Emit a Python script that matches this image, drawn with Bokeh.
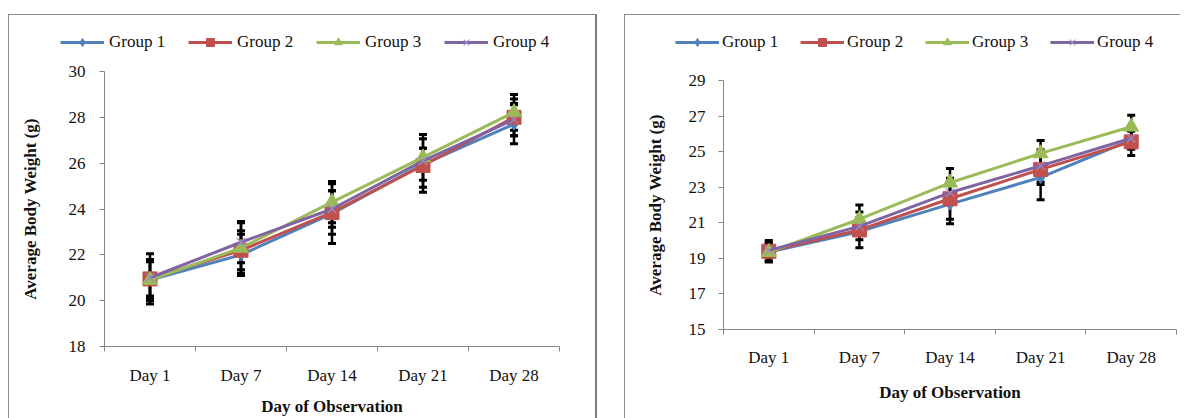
from bokeh.plotting import figure
from bokeh.models import Range1d, FixedTicker, Whisker, TeeHead, ColumnDataSource, Legend, LegendItem
from bokeh.layouts import row, column
from bokeh.embed import file_html
from bokeh.resources import INLINE

days = ["Day 1", "Day 7", "Day 14", "Day 21", "Day 28"]
groups = ["Group 1", "Group 2", "Group 3", "Group 4"]

# Left chart
left_g1 = [20.9, 22.0, 23.8, 25.95, 27.7]
left_g1_err = [0.9, 0.9, 1.3, 0.7, 0.85]
left_g2 = [20.95, 22.2, 23.85, 25.9, 28.0]
left_g2_err = [1.1, 0.85, 0.95, 1.17, 0.8]
left_g3 = [20.9, 22.3, 24.3, 26.25, 28.22]
left_g3_err = [0.8, 1.1, 0.9, 0.4, 0.78]
left_g4 = [21.0, 22.55, 24.0, 26.1, 27.9]
left_g4_err = [0.8, 0.9, 0.8, 1.15, 0.7]
left_yticks = [18, 20, 22, 24, 26, 28, 30]

# Right chart
right_g1 = [19.35, 20.5, 22.05, 23.55, 25.65]
right_g1_err = [0.5, 0.45, 1.1, 1.25, 0.5]
right_g2 = [19.4, 20.6, 22.35, 24.0, 25.55]
right_g2_err = [0.6, 1.0, 1.15, 0.85, 0.77]
right_g3 = [19.35, 21.2, 23.25, 24.9, 26.4]
right_g3_err = [0.5, 0.8, 0.8, 0.73, 0.65]
right_g4 = [19.45, 20.8, 22.7, 24.2, 25.75]
right_g4_err = [0.4, 0.5, 0.6, 0.9, 0.6]
right_yticks = [15, 17, 19, 21, 23, 25, 27, 29]

colors = ["#4F81BD", "#C0504D", "#9BBB59", "#8064A2"]
markers = ["diamond", "square", "triangle", "x"]
msizes = [12, 14, 15, 12]
FONT = "Liberation Serif"
AXC = "#868686"
XCOL = "#A08CC0"


def add_series(p, xs, m, c, mk, ms):
    lr = p.line(xs, m, line_color=c, line_width=3)
    if mk == "x":
        sr = p.scatter(xs, m, marker=mk, size=ms, line_color=XCOL, line_width=1.2)
    else:
        sr = p.scatter(xs, m, marker=mk, size=ms, fill_color=c, line_color=c)
    return lr, sr


def make_legend_fig(means, width, height, loc, lab_w, standoff):
    # Legend strip above the plot; its series lie outside its visible range,
    # so only the legend entries show.
    xs = [i + 0.5 for i in range(len(days))]
    lf = figure(width=width, height=height, x_range=Range1d(0, 1), y_range=Range1d(0, 1),
                x_axis_type=None, y_axis_type=None, output_backend="svg",
                toolbar_location=None, min_border=0, outline_line_color=None,
                frame_align=False)
    items = []
    for g, m, c, mk, ms in zip(groups, means, colors, markers, msizes):
        lr, sr = add_series(lf, xs, m, c, mk, ms)
        items.append(LegendItem(label=g, renderers=[lr, sr]))
    leg = Legend(items=items, orientation="horizontal", location=loc,
                 glyph_width=44, glyph_height=20, label_standoff=standoff,
                 label_width=lab_w, spacing=0, padding=0, margin=0,
                 border_line_color=None, background_fill_alpha=0,
                 label_text_font=FONT, label_text_font_size="17px",
                 label_text_color="#111111")
    lf.add_layout(leg, "center")
    return lf


def make_panel(means, errs, yticks, width, height, mb,
               ylab_st, ytitle_st, xlab_st, xtitle_st):
    n = len(days)
    xs = [i + 0.5 for i in range(n)]
    p = figure(width=width, height=height, x_range=Range1d(0, n),
               y_range=Range1d(yticks[0], yticks[-1]),
               output_backend="svg", toolbar_location=None,
               min_border_left=mb[0], min_border_right=mb[1],
               min_border_top=mb[2], min_border_bottom=mb[3],
               outline_line_color=None, frame_align=False)
    p.xgrid.visible = False
    p.ygrid.visible = False

    xa = p.xaxis[0]
    xa.ticker = FixedTicker(ticks=xs, minor_ticks=list(range(n + 1)))
    xa.major_label_overrides = {x: d for x, d in zip(xs, days)}
    xa.major_tick_line_color = None
    xa.major_tick_in = 0
    xa.major_tick_out = 0
    xa.minor_tick_in = 0
    xa.minor_tick_out = 5
    xa.minor_tick_line_color = AXC
    xa.axis_line_color = AXC
    xa.major_label_standoff = xlab_st
    xa.axis_label = "Day of Observation"
    xa.axis_label_standoff = xtitle_st

    ya = p.yaxis[0]
    ya.ticker = FixedTicker(ticks=yticks, minor_ticks=[])
    ya.major_tick_in = 0
    ya.major_tick_out = 5
    ya.major_tick_line_color = AXC
    ya.axis_line_color = AXC
    ya.major_label_standoff = ylab_st
    ya.axis_label = "Average Body Weight (g)"
    ya.axis_label_standoff = ytitle_st

    for ax in (xa, ya):
        ax.major_label_text_font = FONT
        ax.major_label_text_font_size = "17px"
        ax.major_label_text_color = "#111111"
        ax.axis_label_text_font = FONT
        ax.axis_label_text_font_size = "17px"
        ax.axis_label_text_font_style = "bold"
        ax.axis_label_text_color = "#111111"

    for m, e, c, mk, ms in zip(means, errs, colors, markers, msizes):
        src = ColumnDataSource(dict(x=xs,
                                    upper=[a + b for a, b in zip(m, e)],
                                    lower=[a - b for a, b in zip(m, e)]))
        w = Whisker(base="x", upper="upper", lower="lower", source=src,
                    line_color="black", line_width=2.5,
                    upper_head=TeeHead(size=8, line_width=3, line_color="black"),
                    lower_head=TeeHead(size=8, line_width=3, line_color="black"))
        p.add_layout(w)
        add_series(p, xs, m, c, mk, ms)
    return p


left_means = [left_g1, left_g2, left_g3, left_g4]
left_errs = [left_g1_err, left_g2_err, left_g3_err, left_g4_err]
right_means = [right_g1, right_g2, right_g3, right_g4]
right_errs = [right_g1_err, right_g2_err, right_g3_err, right_g4_err]

lf1 = make_legend_fig(left_means, 586, 45, (51, 8), 79, 5)
p1 = make_panel(left_means, left_errs, left_yticks, 586, 358,
                (95, 36, 11, 72), 14, 26, 14, 9)
lf2 = make_legend_fig(right_means, 555, 45, (50, 8), 78, 3)
p2 = make_panel(right_means, right_errs, right_yticks, 555, 358,
                (98, 4, 20, 89), 13, 21, 13, 13)

c1 = column(lf1, p1, margin=(14, 0, 0, 8),
            styles={"border-left": "1px solid #8c8c8c", "border-top": "1px solid #8c8c8c",
                    "border-right": "2px solid #7a7a7a"})
c2 = column(lf2, p2, margin=(14, 0, 0, 27),
            styles={"border-left": "1px solid #8c8c8c", "border-top": "1px solid #8c8c8c"})

layout = row(c1, c2)
open("out.html", "w").write(file_html(layout, INLINE))
